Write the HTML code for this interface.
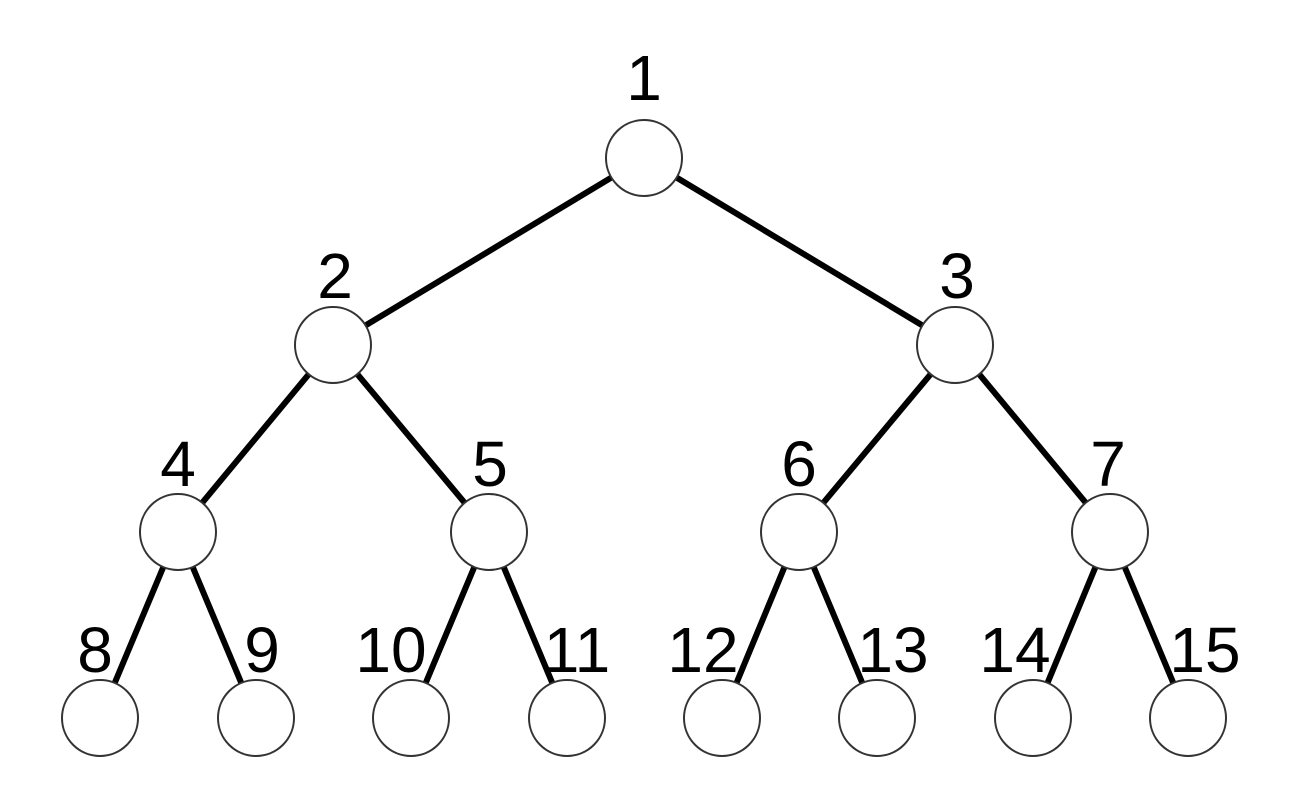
<!DOCTYPE html>
<html><head><meta charset="utf-8"><style>
html,body{margin:0;padding:0;background:#fff;}
svg{display:block;}
text{font-family:"Liberation Sans",sans-serif;font-size:64px;fill:#000;text-anchor:middle;}
</style></head><body>
<svg width="1300" height="788" viewBox="0 0 1300 788">
<g stroke="#000" stroke-width="6">
<line x1="644" y1="158" x2="333" y2="345"/>
<line x1="644" y1="158" x2="955" y2="345"/>
<line x1="333" y1="345" x2="178" y2="532"/>
<line x1="333" y1="345" x2="489" y2="532"/>
<line x1="955" y1="345" x2="799" y2="532"/>
<line x1="955" y1="345" x2="1110" y2="532"/>
<line x1="178" y1="532" x2="100" y2="718"/>
<line x1="178" y1="532" x2="256" y2="718"/>
<line x1="489" y1="532" x2="411" y2="718"/>
<line x1="489" y1="532" x2="567" y2="718"/>
<line x1="799" y1="532" x2="722" y2="718"/>
<line x1="799" y1="532" x2="877" y2="718"/>
<line x1="1110" y1="532" x2="1033" y2="718"/>
<line x1="1110" y1="532" x2="1188" y2="718"/>
</g>
<g fill="#fff" stroke="#333" stroke-width="2">
<circle cx="644" cy="158" r="38"/>
<circle cx="333" cy="345" r="38"/>
<circle cx="955" cy="345" r="38"/>
<circle cx="178" cy="532" r="38"/>
<circle cx="489" cy="532" r="38"/>
<circle cx="799" cy="532" r="38"/>
<circle cx="1110" cy="532" r="38"/>
<circle cx="100" cy="718" r="38"/>
<circle cx="256" cy="718" r="38"/>
<circle cx="411" cy="718" r="38"/>
<circle cx="567" cy="718" r="38"/>
<circle cx="722" cy="718" r="38"/>
<circle cx="877" cy="718" r="38"/>
<circle cx="1033" cy="718" r="38"/>
<circle cx="1188" cy="718" r="38"/>
</g>
<text x="644" y="100">1</text>
<text x="335" y="298">2</text>
<text x="957" y="298">3</text>
<text x="178" y="486">4</text>
<text x="490" y="486">5</text>
<text x="799" y="486">6</text>
<text x="1108" y="486">7</text>
<text x="95" y="672">8</text>
<text x="262" y="672">9</text>
<text x="391" y="672">10</text>
<text x="577" y="672">11</text>
<text x="703" y="672">12</text>
<text x="893" y="672">13</text>
<text x="1015" y="672">14</text>
<text x="1205" y="672">15</text>
</svg>
</body></html>
